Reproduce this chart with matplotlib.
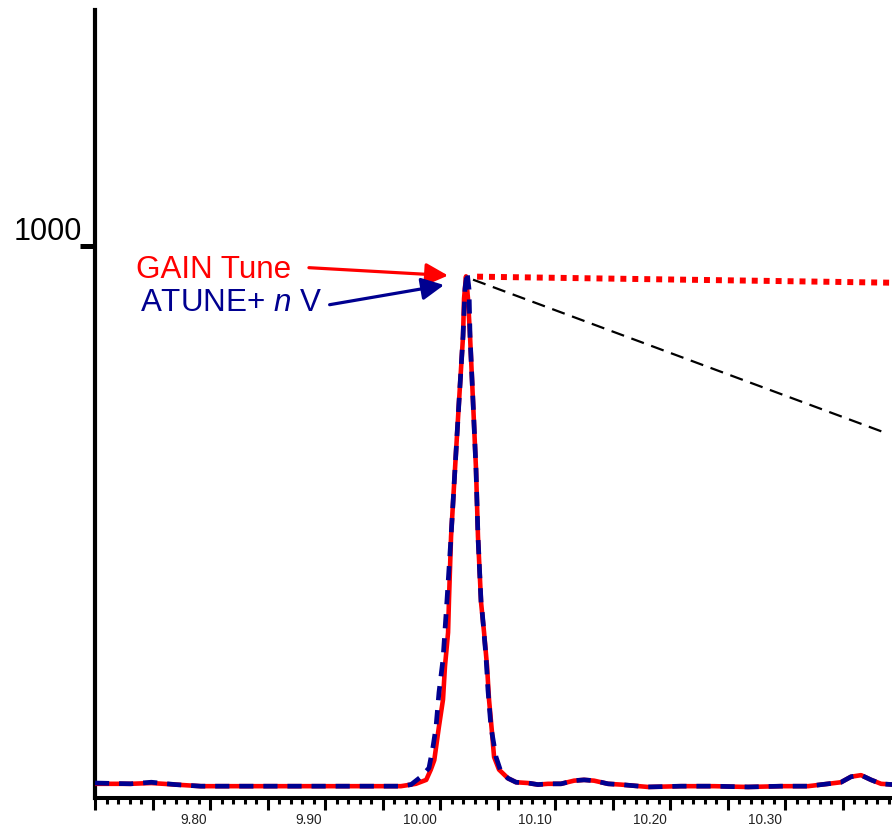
import numpy as np
import matplotlib
matplotlib.use('Agg')
import matplotlib.pyplot as plt
from matplotlib.ticker import MultipleLocator, FixedLocator

plt.rcParams['font.family'] = 'Liberation Sans'
plt.rcParams['mathtext.fontset'] = 'custom'
plt.rcParams['mathtext.rm'] = 'Liberation Sans'
plt.rcParams['mathtext.it'] = 'Liberation Sans:italic'

# GAIN Tune trace (red, solid)
red_time = [9.700, 9.731, 9.749, 9.770, 9.792, 9.836, 9.879, 9.923, 9.966, 9.979,
            9.988, 9.992, 9.995, 9.999, 10.0026, 10.0043, 10.0070, 10.0078, 10.0096, 10.0130,
            10.0165, 10.0200, 10.0209, 10.0226, 10.0243, 10.0261, 10.0287, 10.0313, 10.0330, 10.0357,
            10.0383, 10.0409, 10.0426, 10.0452, 10.0470, 10.0513, 10.0591, 10.0661, 10.0765, 10.0852,
            10.0939, 10.1052, 10.1165, 10.1252, 10.1339, 10.1461, 10.1574, 10.1809, 10.2096, 10.2383,
            10.2678, 10.2965, 10.3200, 10.3374, 10.3487, 10.3574, 10.3661, 10.3748, 10.3835, 10.3939]
red_signal = [318, 318, 319, 317, 315, 315, 315, 315, 315, 318,
              323, 336, 348, 390, 425, 467, 510, 552, 632, 717,
              803, 886, 934, 962, 934, 886, 803, 717, 632, 548,
              510, 467, 425, 383, 352, 336, 325, 320, 319, 317,
              318, 318, 322, 323, 322, 318, 317, 314, 315, 315,
              314, 315, 315, 318, 320, 327, 329, 323, 318, 317]

# ATUNE+ nV trace (navy, dashed)
atune_time = [9.700, 9.731, 9.749, 9.770, 9.792, 9.836, 9.879, 9.923, 9.966, 9.9748,
              9.9835, 9.9904, 9.9939, 9.9965, 9.9991, 10.0026, 10.0061, 10.0096, 10.0130, 10.0165,
              10.0200, 10.0217, 10.0235, 10.0252, 10.0261, 10.0287, 10.0313, 10.0330, 10.0357, 10.0365,
              10.0400, 10.0417, 10.0443, 10.0487, 10.0530, 10.0591, 10.0661, 10.0765, 10.0852, 10.0939,
              10.1052, 10.1165, 10.1252, 10.1339, 10.1461, 10.1574, 10.1809, 10.2096, 10.2383, 10.2678,
              10.2965, 10.3200, 10.3374, 10.3487, 10.3574, 10.3661, 10.3748, 10.3835, 10.3939]
atune_signal = [319, 318, 320, 317, 315, 315, 315, 315, 315, 317,
                327, 338, 365, 390, 434, 476, 552, 632, 717, 803,
                886, 946, 968, 946, 886, 803, 717, 632, 548, 539,
                479, 437, 390, 352, 333, 325, 320, 319, 317, 318,
                318, 322, 323, 322, 318, 317, 314, 315, 315, 314,
                315, 315, 318, 320, 327, 329, 323, 318, 317]

# guide lines leaving the peak
red_guide_time = [10.0322, 10.3939]
red_guide_signal = [961.6, 953.9]
black_guide_time = [10.0287, 10.3878]
black_guide_signal = [957.8, 763.1]

x_labels = ['9.80', '9.90', '10.00', '10.10', '10.20', '10.30']

fig = plt.figure(figsize=(8.92, 8.28), dpi=100)
ax = fig.add_axes([95 / 892, 29 / 828, 797 / 892, 788 / 828])

ax.plot(red_time, red_signal, color='#ff0000', lw=3.3, zorder=3)
ax.plot(atune_time, atune_signal, color='#000090', lw=3.4, ls=(0, (3.0, 2.1)), zorder=4)
ax.plot(red_guide_time, red_guide_signal, color='#ff0000', lw=4.3, ls=(0, (1, 1)), zorder=5)
ax.plot(black_guide_time, black_guide_signal, color='black', lw=1.6, ls=(0, (6, 3.5)), zorder=5)

ax.annotate('', xy=(10.007, 963), xytext=(9.886, 973),
            arrowprops=dict(arrowstyle='-|>', color='#ff0000', lw=2.3,
                            mutation_scale=34, shrinkA=0, shrinkB=0), zorder=6)
ax.annotate('', xy=(10.0035, 951), xytext=(9.904, 926),
            arrowprops=dict(arrowstyle='-|>', color='#000090', lw=2.3,
                            mutation_scale=34, shrinkA=0, shrinkB=0), zorder=6)
ax.text(9.736, 971, 'GAIN Tune', color='#ff0000', fontsize=22.6, va='center', ha='left')
ax.text(9.739, 930, r'ATUNE+ $\it{n}$ V', color='#000090', fontsize=22.6, va='center', ha='left')

ax.set_xlim(9.70, 10.393)
ax.set_ylim(300, 1300)

for side in ['top', 'right']:
    ax.spines[side].set_visible(False)
ax.spines['left'].set_linewidth(3)
ax.spines['bottom'].set_linewidth(2.9)

# x axis: long ticks every 0.05, short every 0.01, labels every 0.1
ax.xaxis.set_major_locator(MultipleLocator(0.05))
ax.xaxis.set_minor_locator(MultipleLocator(0.01))
ax.set_xticklabels([])
ax.tick_params(axis='x', which='major', length=8.6, width=2.2, labelbottom=False)
ax.tick_params(axis='x', which='minor', length=4.3, width=2.2)
for i, lab in enumerate(x_labels):
    t = 9.80 + 0.1 * i
    ax.text(t - 0.003, -0.0175, lab, transform=ax.get_xaxis_transform(), ha='right', va='top',
            fontsize=9.8, color='#222222')

# y axis: one labelled tick at 1000, small ticks every 100
ax.yaxis.set_major_locator(FixedLocator([1000]))
ax.yaxis.set_minor_locator(MultipleLocator(100))
ax.set_yticklabels(['1000'])
ax.tick_params(axis='y', which='major', length=10.8, width=3.6, pad=-1.5, labelsize=22)
ax.tick_params(axis='y', which='minor', length=1.5, width=1.5)
for lab in ax.get_yticklabels():
    lab.set_va('bottom')

fig.savefig('out.png', dpi=100)
